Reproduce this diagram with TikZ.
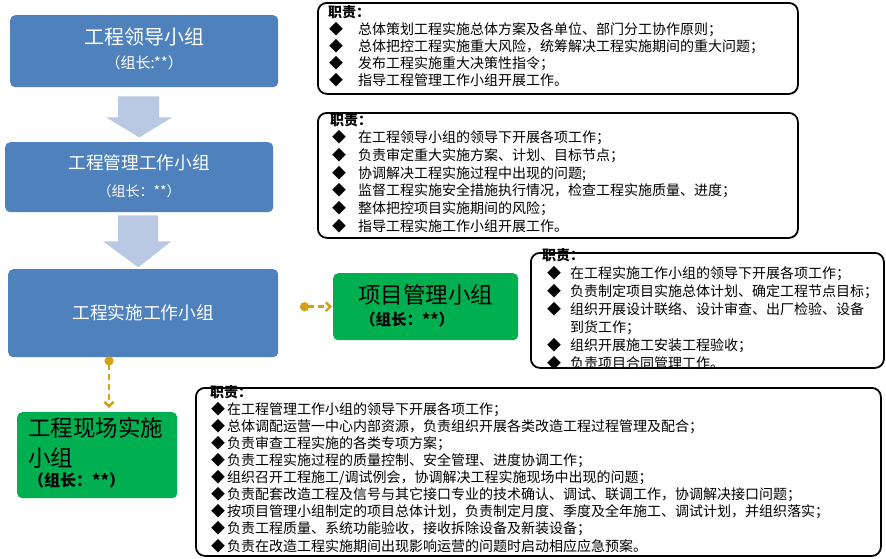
\documentclass[tikz,border=0pt]{standalone}
\usepackage{fontspec}
\setmainfont{Noto Sans CJK SC}
\usetikzlibrary{arrows.meta,calc}
\definecolor{boxblue}{RGB}{79,129,189}
\definecolor{arrowblue}{RGB}{185,201,227}
\definecolor{boxgreen}{RGB}{0,176,80}
\definecolor{linkgold}{RGB}{214,160,22}
\newcommand\fsz[2]{\fontsize{#1}{#2}\selectfont}
\newlength\bulind
\newlength\txtind
\newcommand\itm[1]{\par\hspace*{\bulind}\makebox[\dimexpr\txtind-\bulind\relax][l]{◆}#1}
\newcommand\cont[1]{\par\hspace*{\txtind}#1}
\tikzset{
  bluebox/.style={fill=boxblue, draw=none, rounded corners=5pt, inner sep=0pt, anchor=north west},
  greenbox/.style={fill=boxgreen, draw=none, rounded corners=5pt, inner sep=0pt, anchor=north west},
  frame/.style={draw=black, line width=1.8pt, rounded corners=9pt, inner sep=0pt, anchor=north west, fill=none},
  wtxt/.style={text=white, inner sep=0pt},
  ktxt/.style={text=black, inner sep=0pt},
  duty/.style={text=black, inner sep=0pt, anchor=north west, align=left, text width=#1},
  link/.style={draw=linkgold, line width=2.8pt, dash pattern=on 6pt off 4pt,
    {Circle[length=9pt,width=9pt]}-{Straight Barb[length=4.5pt,width=9pt,line width=2.4pt]}},
  blockarrow/.style={fill=arrowblue, draw=none}
}
\begin{document}
\begin{tikzpicture}[x=1pt,y=-1pt]
\useasboundingbox[fill=white] (0,0) rectangle (886,558);

% organisation boxes
\node[bluebox, minimum width=268pt, minimum height=72pt] (b1) at (10,15) {};
\node[wtxt, font=\fsz{20}{24}] (b1a) at ($(b1.north)+(0,22)$) {工程领导小组};
\node[wtxt, font=\fsz{15}{17}] (b1b) at ($(b1.north)+(0,48)$) {（组长:**）};

\node[bluebox, minimum width=268pt, minimum height=70pt] (b2) at (5,142) {};
\node[wtxt, font=\fsz{17.7}{20}] (b2a) at ($(b2.north)+(0,21)$) {工程管理工作小组};
\node[wtxt, font=\fsz{14}{16}] (b2b) at ($(b2.north)+(0,49)$) {（组长：**）};

\node[bluebox, minimum width=270pt, minimum height=88pt, text=white, font=\fsz{17.7}{20}] (b3) at (8,269) {工程实施工作小组};

\node[greenbox, minimum width=185pt, minimum height=67pt] (pm) at (333,273) {};
\node[ktxt, font=\fsz{22.5}{26}] (pma) at ($(pm.north)+(0,22)$) {项目管理小组};
\node[ktxt, font=\fsz{15.5}{18}\bfseries, anchor=west] (pmb) at ($(pm.north west)+(27,47)$) {（组长：**）};

\node[greenbox, minimum width=160pt, minimum height=86pt] (g2) at (17,412) {};
\node[ktxt, font=\fsz{22.5}{26}, anchor=west] (g2a) at ($(g2.north west)+(11,16)$) {工程现场实施};
\node[ktxt, font=\fsz{22.5}{26}, anchor=west] (g2b) at ($(g2.north west)+(11,46)$) {小组};
\node[ktxt, font=\fsz{16}{18}\bfseries, anchor=west] (g2c) at ($(g2.north west)+(11,68)$) {（组长：**）};

% block arrows
\fill[blockarrow] ($(b1.south)+(-26,9)$) -- ++(41,0) -- ++(0,21) -- ++(13,0) -- ++(-33,20) -- ++(-33,-20) -- ++(12,0) -- cycle;
\fill[blockarrow] ($(b2.south)+(-21,3)$) -- ++(40,0) -- ++(0,26) -- ++(13,0) -- ++(-33,26) -- ++(-35,-26) -- ++(15,0) -- cycle;

% dashed links
\draw[link] ($(pm.west)+(-33,0)$) -- ($(pm.west)+(-1,0)$);
\draw[link] ($(b3.south west)+(101,-1)$) -- ($(g2.north west)+(92,-4)$);

% duty frames
\node[frame, minimum width=480pt, minimum height=91pt] (fa) at (317,2) {};
\setlength\bulind{1pt}\setlength\txtind{30pt}
\node[duty=470pt, font=\fsz{14}{17.2}] (fat) at ($(fa.north west)+(11,3)$) {%
{\bfseries 职责：}
\itm{总体策划工程实施总体方案及各单位、部门分工协作原则；}
\itm{总体把控工程实施重大风险，统筹解决工程实施期间的重大问题；}
\itm{发布工程实施重大决策性指令；}
\itm{指导工程管理工作小组开展工作。}};

\node[frame, minimum width=480pt, minimum height=125pt] (fb) at (317,112) {};
\setlength\bulind{2pt}\setlength\txtind{28pt}
\node[duty=470pt, font=\fsz{14}{17.7}] (fbt) at ($(fb.north west)+(13,1)$) {%
{\bfseries 职责：}
\itm{在工程领导小组的领导下开展各项工作；}
\itm{负责审定重大实施方案、计划、目标节点；}
\itm{协调解决工程实施过程中出现的问题;}
\itm{监督工程实施安全措施执行情况，检查工程实施质量、进度；}
\itm{整体把控项目实施期间的风险；}
\itm{指导工程实施工作小组开展工作。}};

\node[frame, minimum width=353pt, minimum height=115pt] (fc) at (530,252) {};
\setlength\bulind{5pt}\setlength\txtind{28pt}
\node[duty=341pt, font=\fsz{14}{18}] (fct) at ($(fc.north west)+(12,-4)$) {%
{\bfseries 职责：}
\itm{在工程实施工作小组的领导下开展各项工作；}
\itm{负责制定项目实施总体计划、确定工程节点目标；}
\itm{组织开展设计联络、设计审查、出厂检验、设备}
\cont{到货工作；}
\itm{组织开展施工安装工程验收；}
\itm{负责项目合同管理工作。}};

\node[frame, minimum width=685pt, minimum height=168pt] (fd) at (195,387) {};
\setlength\bulind{1pt}\setlength\txtind{17pt}
\node[duty=670pt, font=\fsz{14}{17.1}] (fdt) at ($(fd.north west)+(15,-2)$) {%
{\bfseries 职责：}
\itm{在工程管理工作小组的领导下开展各项工作；}
\itm{总体调配运营一中心内部资源，负责组织开展各类改造工程过程管理及配合；}
\itm{负责审查工程实施的各类专项方案；}
\itm{负责工程实施过程的质量控制、安全管理、进度协调工作；}
\itm{组织召开工程施工/调试例会，协调解决工程实施现场中出现的问题；}
\itm{负责配套改造工程及信号与其它接口专业的技术确认、调试、联调工作，协调解决接口问题；}
\itm{按项目管理小组制定的项目总体计划，负责制定月度、季度及全年施工、调试计划，并组织落实；}
\itm{负责工程质量、系统功能验收，接收拆除设备及新装设备；}
\itm{负责在改造工程实施期间出现影响运营的问题时启动相应应急预案。}};
\end{tikzpicture}
\end{document}
